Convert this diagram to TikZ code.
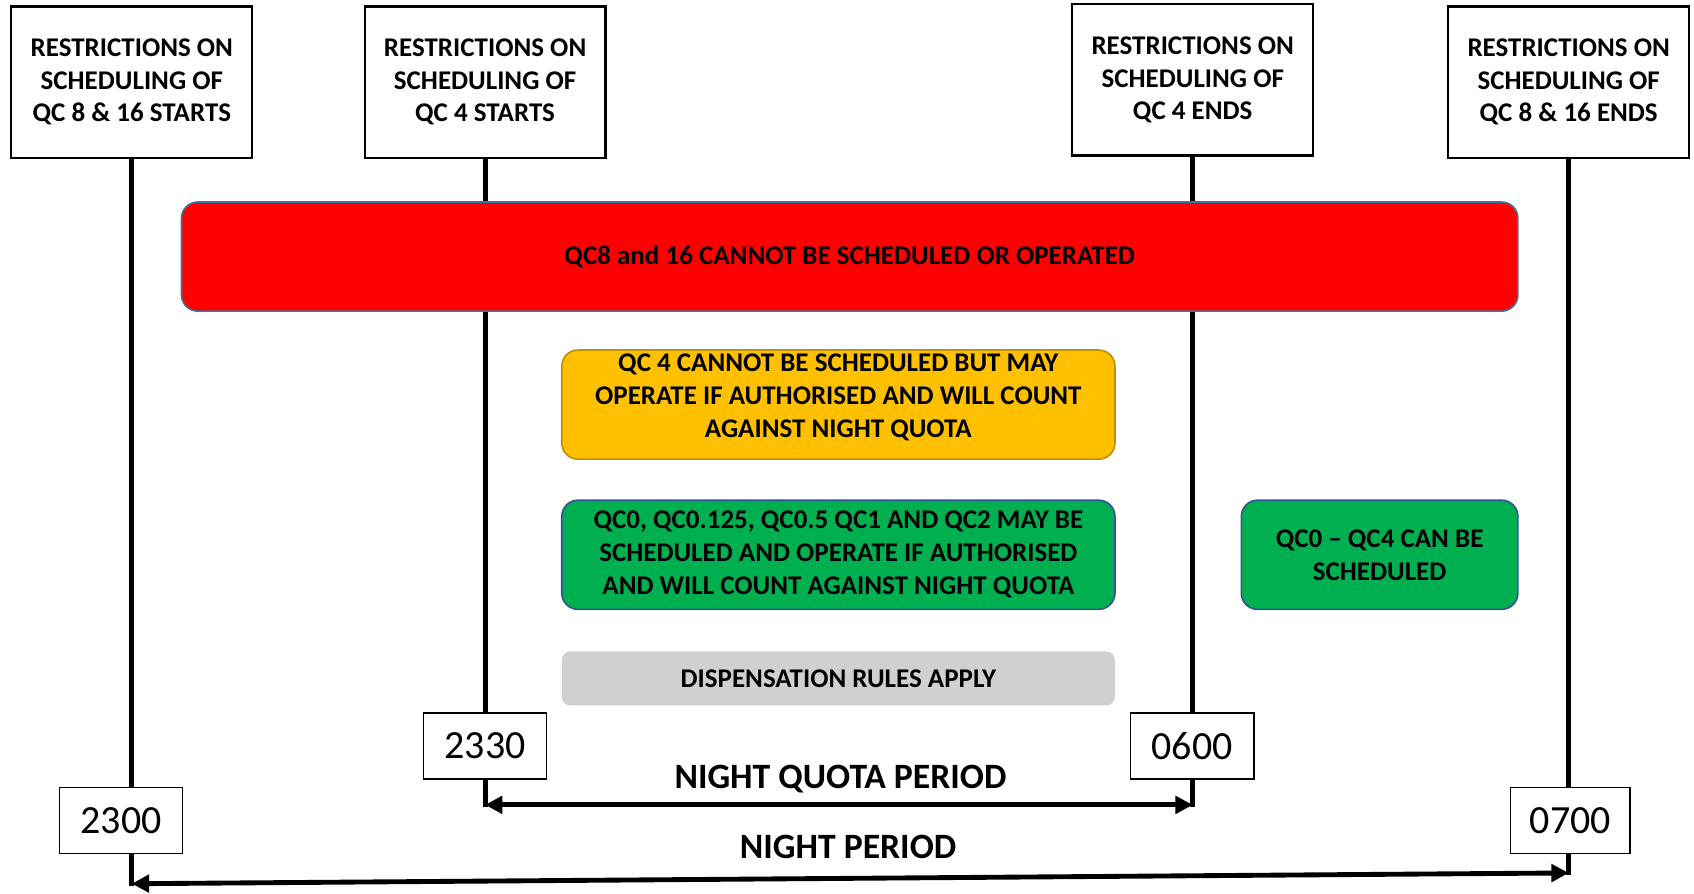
\documentclass[tikz,border=0pt]{standalone}
\usepackage{fontspec}
\setmainfont{Carlito}
\usetikzlibrary{arrows.meta,backgrounds}
\definecolor{barred}{HTML}{FF0000}
\definecolor{barorange}{HTML}{FFC000}
\definecolor{bargreen}{HTML}{00B050}
\definecolor{bargray}{HTML}{D0D0D0}
\definecolor{edgeblue}{HTML}{41719C}
\definecolor{edgegold}{HTML}{BF9000}
\definecolor{edgegreen}{HTML}{2F5597}
\tikzstyle{headbox} = [draw=black, fill=white, line width=2pt,
    minimum width=223pt, minimum height=140pt, align=center,
    font=\fontsize{25}{30}\selectfont\bfseries]
\tikzstyle{timebox} = [draw=black, fill=white, line width=1.5pt,
    minimum width=114pt, minimum height=61pt, inner sep=0pt,
    font=\fontsize{37}{40}\selectfont]
\tikzstyle{rulebox} = [rounded corners=15pt, line width=1.5pt, align=center,
    inner sep=0pt, font=\fontsize{25}{30.5}\selectfont\bfseries]
\tikzstyle{timeline} = [line width=4.5pt, line cap=rect]
\tikzstyle{period} = [line width=4.5pt,
    {Triangle[length=16pt,width=16pt]}-{Triangle[length=16pt,width=16pt]}]
\tikzstyle{periodlabel} = [font=\fontsize{33}{36}\selectfont\bfseries]

\begin{document}
\begin{tikzpicture}[x=1pt, y=-1pt]
    \useasboundingbox (0,0) rectangle (1568,827);
    % restriction headings
    \node [headbox] (r1) at (122,76) {RESTRICTIONS ON\\SCHEDULING OF\\QC 8 \& 16 STARTS};
    \node [headbox] (r2) at (449,76) {RESTRICTIONS ON\\SCHEDULING OF\\QC 4 STARTS};
    \node [headbox] (r3) at (1104,74) {RESTRICTIONS ON\\SCHEDULING OF\\QC 4 ENDS};
    \node [headbox] (r4) at (1452,76) {RESTRICTIONS ON\\SCHEDULING OF\\QC 8 \& 16 ENDS};

    % rules
    \node [rulebox, fill=barred, draw=edgeblue, minimum width=1237pt, minimum height=101pt]
        (nobig) at (786.5,237.5) {QC8 and 16 CANNOT BE SCHEDULED OR OPERATED};
    \node [rulebox, fill=barorange, draw=edgegold, minimum width=512pt, minimum height=101pt,
        text depth=16pt] (qcfour) at (776,374.5)
        {QC 4 CANNOT BE SCHEDULED BUT MAY\\OPERATE IF AUTHORISED AND WILL COUNT\\AGAINST NIGHT QUOTA};
    \node [rulebox, fill=bargreen, draw=edgegreen, minimum width=512pt, minimum height=101pt]
        (qcsmall) at (776,513.5) {QC0, QC0.125, QC0.5 QC1 AND QC2 MAY BE\\SCHEDULED AND OPERATE IF AUTHORISED\\AND WILL COUNT AGAINST NIGHT QUOTA};
    \node [rulebox, fill=bargray, rounded corners=8pt, minimum width=512pt, minimum height=50pt]
        (dispense) at (776,628) {DISPENSATION RULES APPLY};
    \node [rulebox, fill=bargreen, draw=edgegreen, minimum width=256pt, minimum height=101pt]
        (qcmorning) at (1277,513.5) {QC0 -- QC4 CAN BE\\SCHEDULED};

    % times
    \node [timebox] (t2300) at (112,759.5) {2300};
    \node [timebox] (t2330) at (449,690.5) {2330};
    \node [timebox] (t0600) at (1103.5,690.5) {0600};
    \node [timebox, minimum width=111pt] (t0700) at (1453.5,759.5) {0700};

    \coordinate (b1) at (122,818);
    \coordinate (b4) at (1452,808);
    \coordinate (q1) at (449,745);
    \coordinate (q2) at (1104,745);

    \begin{scope}[on background layer]
        \draw [timeline] (r1.south) -- (b1);
        \draw [timeline] (r2.south) -- (q1);
        \draw [timeline] (r3.south) -- (q2);
        \draw [timeline] (r4.south) -- (b4);
    \end{scope}

    % periods
    \draw [period] (q1) -- (q2);
    \draw [period] (b1) -- (b4);
    \node [periodlabel] (nq) at (778,721) {NIGHT QUOTA PERIOD};
    \node [periodlabel] (np) at (785,784) {NIGHT PERIOD};
\end{tikzpicture}
\end{document}
